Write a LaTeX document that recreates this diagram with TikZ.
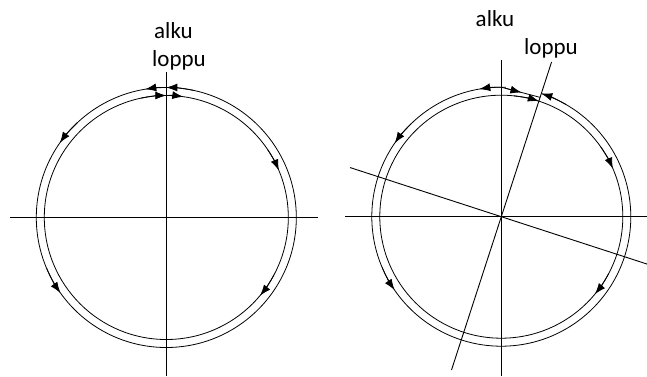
\documentclass[tikz,border=0pt]{standalone}
\usepackage{fontspec}
\setmainfont{Carlito}
\usetikzlibrary{arrows.meta,calc}
\newcommand\ringtip[4]{\draw[tipline] ([shift={(#2:#3)}]#1) arc (#2:#4:#3);}
\begin{document}
\begin{tikzpicture}[x=1pt,y=1pt,
  axis/.style={line width=0.9pt},
  ring/.style={line width=0.8pt},
  tipline/.style={-{Latex[length=11pt,width=8pt]}, line width=0.8pt},
  lbl/.style={font=\fontsize{23}{27}\selectfont, anchor=base, inner sep=0pt}]
\useasboundingbox (0,0) rectangle (647,376);
% ---------- left figure ----------
\coordinate (C1) at (166.3,158.5);
\coordinate (h1a) at (10,158.5);
\coordinate (h1b) at (318,158.5);
\coordinate (v1a) at (166.3,304);
\coordinate (v1b) at (166.3,0);
\draw[axis] (h1a) -- (h1b);
\draw[axis] (v1a) -- (v1b);
\draw[ring] (C1) circle (130);
\draw[ring] (C1) circle (122);
% outer, counterclockwise
\ringtip{C1}{88}{130}{99.3}
\ringtip{C1}{78}{130}{90}
\ringtip{C1}{133}{130}{145}
\ringtip{C1}{203}{130}{215.5}
% inner, clockwise
\ringtip{C1}{102}{122}{90}
\ringtip{C1}{94}{122}{82}
\ringtip{C1}{34}{122}{22.7}
\ringtip{C1}{-28}{122}{-39.8}
\node[lbl] (alku1) at (173.5,338) {alku};
\node[lbl] (loppu1) at (179,310) {loppu};
% ---------- right figure ----------
\coordinate (C2) at (501.3,159.3);
\coordinate (h2a) at (345,159.3);
\coordinate (h2b) at (647,159.3);
\coordinate (v2a) at (501.3,316);
\coordinate (v2b) at (501.3,0);
\draw[axis] (h2a) -- (h2b);
\draw[axis] (v2a) -- (v2b);
\draw[axis] ([shift={(162:159)}]C2) -- ([shift={(-18:154)}]C2);
\draw[axis] ([shift={(72:162.7)}]C2) -- ([shift={(252:161.2)}]C2);
\draw[ring] ([shift={(90:129.5)}]C2) arc (90:432:129.5);
\draw[ring] (C2) circle (121.5);
\coordinate (P) at ([shift={(90:129.5)}]C2);
\coordinate (Q) at ([shift={(72:125.5)}]C2);
\draw[ring] (P) -- (Q);
\draw[tipline] ($(P)!0.1!(Q)$) -- ($(P)!0.52!(Q)$);
% outer, counterclockwise
\ringtip{C2}{88}{129.5}{99.8}
\ringtip{C2}{134}{129.5}{145.4}
\ringtip{C2}{203}{129.5}{214.5}
\ringtip{C2}{60}{129.5}{72}
% inner, clockwise
\ringtip{C2}{84}{121.5}{72}
\ringtip{C2}{35}{121.5}{23.3}
\ringtip{C2}{-28}{121.5}{-39.6}
\node[lbl] (alku2) at (495,349.3) {alku};
\node[lbl] (loppu2) at (551,322) {loppu};
\end{tikzpicture}
\end{document}
